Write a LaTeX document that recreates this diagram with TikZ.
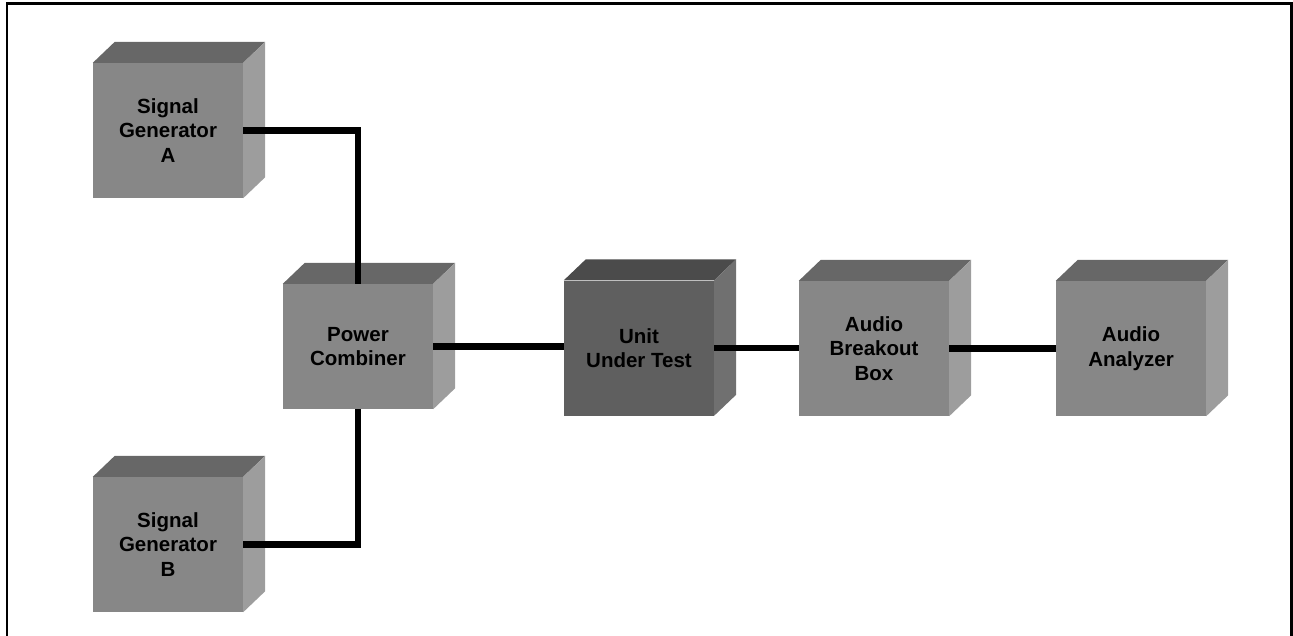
\documentclass[tikz,border=0pt]{standalone}
\usepackage{fontspec}
\setmainfont{Liberation Sans}
\usetikzlibrary{calc}
\definecolor{frontc}{HTML}{878787}
\definecolor{topc}{HTML}{676767}
\definecolor{sidec}{HTML}{9D9D9D}
\definecolor{dfrontc}{HTML}{5F5F5F}
\definecolor{dtopc}{HTML}{4B4B4B}
\definecolor{dsidec}{HTML}{707070}
\tikzset{
  cube/.style={rectangle, minimum width=150pt, minimum height=135pt, inner sep=0pt,
    fill=frontc, align=center,
    font=\fontsize{20.5pt}{24.5pt}\selectfont\bfseries},
  wire/.style={line width=6.5pt, black, line join=miter},
  frame/.style={line width=2.5pt, black}
}
\begin{document}
\begin{tikzpicture}[x=1pt,y=-1pt]
\useasboundingbox (0,0) rectangle (1293,635);
\draw[frame] (7,640) -- (7,3.5) -- (1291.5,3.5) -- (1291.5,640);
\node[cube] (sga) at (168,130.5) {Signal\\Generator\\A};
\node[cube] (sgb) at (168,544.5) {Signal\\Generator\\B};
\node[cube, minimum height=125pt] (pc) at (358,346.5) {Power\\Combiner};
\node[cube, fill=dfrontc] (uut) at (639,348) {Unit\\Under Test};
\node[cube] (abb) at (874,348.5) {Audio\\Breakout\\Box};
\node[cube] (aa) at (1131,348.5) {Audio\\Analyzer};
\foreach \n/\t/\s in {sga/topc/sidec, sgb/topc/sidec, pc/topc/sidec, uut/dtopc/dsidec, abb/topc/sidec, aa/topc/sidec}{
  \fill[\t] (\n.north west) -- ($(\n.north west)+(22,-21)$) -- ($(\n.north east)+(22,-21)$) -- (\n.north east) -- cycle;
  \fill[\s] (\n.north east) -- ($(\n.north east)+(22,-21)$) -- ($(\n.south east)+(22,-21)$) -- (\n.south east) -- cycle;
}
\draw[wire] (sga.east) -| (pc.north);
\draw[wire] (sgb.east) -| (pc.south);
\draw[wire] (pc.east) -- (pc.east -| uut.west);
\draw[wire] (uut.east) -- (uut.east -| abb.west);
\draw[wire] (abb.east) -- (aa.west);
\end{tikzpicture}
\end{document}
